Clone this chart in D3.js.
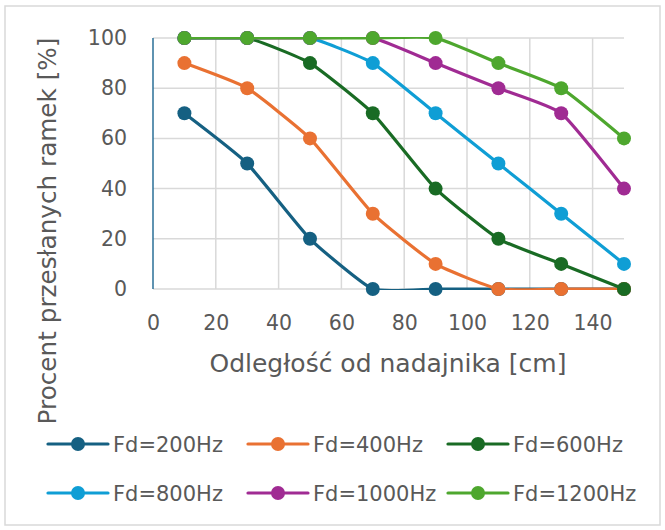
<!DOCTYPE html>
<html><head><meta charset="utf-8">
<script src="https://cdn.jsdelivr.net/npm/d3@7"></script>
<style>
html,body{margin:0;padding:0;background:#fff;}
text{font-family:"DejaVu Sans",sans-serif;fill:#595959;}
</style></head>
<body>
<svg id="c" width="665" height="530"></svg>
<script>
const distances = [10, 30, 50, 70, 90, 110, 130, 150];
const seriesNames = ["Fd=200Hz", "Fd=400Hz", "Fd=600Hz", "Fd=800Hz", "Fd=1000Hz", "Fd=1200Hz"];
const fd200  = [70, 50, 20, 0, 0, 0, 0, 0];
const fd400  = [90, 80, 60, 30, 10, 0, 0, 0];
const fd600  = [100, 100, 90, 70, 40, 20, 10, 0];
const fd800  = [100, 100, 100, 90, 70, 50, 30, 10];
const fd1000 = [100, 100, 100, 100, 90, 80, 70, 40];
const fd1200 = [100, 100, 100, 100, 100, 90, 80, 60];
const xTicks = [0, 20, 40, 60, 80, 100, 120, 140];
const yTicks = [0, 20, 40, 60, 80, 100];
const colors = ["#156082", "#E97132", "#196B24", "#0F9ED5", "#A02B93", "#4EA72E"];
const xTitle = "Odległość od nadajnika [cm]";
const yTitle = "Procent przesłanych ramek [%]";

const seriesValues = [fd200, fd400, fd600, fd800, fd1000, fd1200];
const svg = d3.select("#c");
const FONT = "'DejaVu Sans', sans-serif";

// frame
svg.append("rect").attr("x", 5).attr("y", 6).attr("width", 655).attr("height", 519)
  .attr("fill", "#fff").attr("stroke", "#d9d9d9").attr("stroke-width", 1.5);

const x = d3.scaleLinear().domain([0, 150]).range([153, 624]);
const y = d3.scaleLinear().domain([0, 100]).range([289, 38]);

svg.append("defs").append("clipPath").attr("id", "plotClip")
  .append("rect").attr("x", x(0) - 1).attr("y", y(100) - 1)
  .attr("width", x(150) - x(0) + 2).attr("height", y(0) - y(100) + 2);

// gridlines
const g = svg.append("g");
g.selectAll("line.h").data(yTicks).join("line")
  .attr("x1", x(0)).attr("x2", x(150)).attr("y1", d => y(d)).attr("y2", d => y(d))
  .attr("stroke", "#d9d9d9").attr("stroke-width", 1.5);
g.selectAll("line.v").data(xTicks.filter(d => d > 0)).join("line")
  .attr("x1", d => x(d)).attr("x2", d => x(d)).attr("y1", y(0)).attr("y2", y(100))
  .attr("stroke", "#d9d9d9").attr("stroke-width", 1.5);
// y axis line
svg.append("line").attr("x1", x(0)).attr("x2", x(0)).attr("y1", y(0)).attr("y2", y(100))
  .attr("stroke", "#2a6f97").attr("stroke-width", 1.5);

// axes via d3
const xAxis = svg.append("g").attr("transform", `translate(0,${y(0)})`)
  .call(d3.axisBottom(x).tickValues(xTicks).tickSize(0).tickPadding(26).tickFormat(d3.format("d")));
xAxis.select(".domain").remove();
xAxis.selectAll("text").style("font-size", "20.5px").style("fill", "#595959").style("font-family", FONT);
const yAxis = svg.append("g").attr("transform", `translate(${x(0)},0)`)
  .call(d3.axisLeft(y).tickValues(yTicks).tickSize(0).tickPadding(26).tickFormat(d3.format("d")));
yAxis.select(".domain").remove();
yAxis.selectAll("text").style("font-size", "20.5px").style("fill", "#595959").style("font-family", FONT);

// titles
svg.append("text").attr("x", 388).attr("y", 372).attr("text-anchor", "middle")
  .style("font-size", "25px").text(xTitle);
svg.append("text").attr("transform", "translate(56,231) rotate(-90)").attr("text-anchor", "middle")
  .style("font-size", "24.7px").text(yTitle);

// series
const line = d3.line().x(d => x(d[0])).y(d => y(d[1])).curve(d3.curveCardinal.tension(0.55));
seriesValues.forEach((vals, i) => {
  const pts = distances.map((d, j) => [d, vals[j]]);
  const sg = svg.append("g");
  sg.append("path").attr("d", line(pts)).attr("fill", "none").attr("clip-path", "url(#plotClip)")
    .attr("stroke", colors[i]).attr("stroke-width", 3.2).attr("stroke-linejoin", "round").attr("stroke-linecap", "round");
  sg.selectAll("circle").data(pts).join("circle")
    .attr("cx", d => x(d[0])).attr("cy", d => y(d[1])).attr("r", 7).attr("fill", colors[i]);
});

// legend
const legendRows = [444, 493];
seriesNames.forEach((name, i) => {
  const lx = 48 + (i % 3) * 200;
  const ly = legendRows[Math.floor(i / 3)];
  const lg = svg.append("g");
  lg.append("line").attr("x1", lx).attr("x2", lx + 60).attr("y1", ly).attr("y2", ly)
    .attr("stroke", colors[i]).attr("stroke-width", 3.2).attr("stroke-linecap", "round");
  lg.append("circle").attr("cx", lx + 30).attr("cy", ly).attr("r", 7).attr("fill", colors[i]);
  lg.append("text").attr("x", lx + 65).attr("y", ly).attr("dy", "0.36em")
    .style("font-size", "21px").text(name);
});
</script>
</body></html>
